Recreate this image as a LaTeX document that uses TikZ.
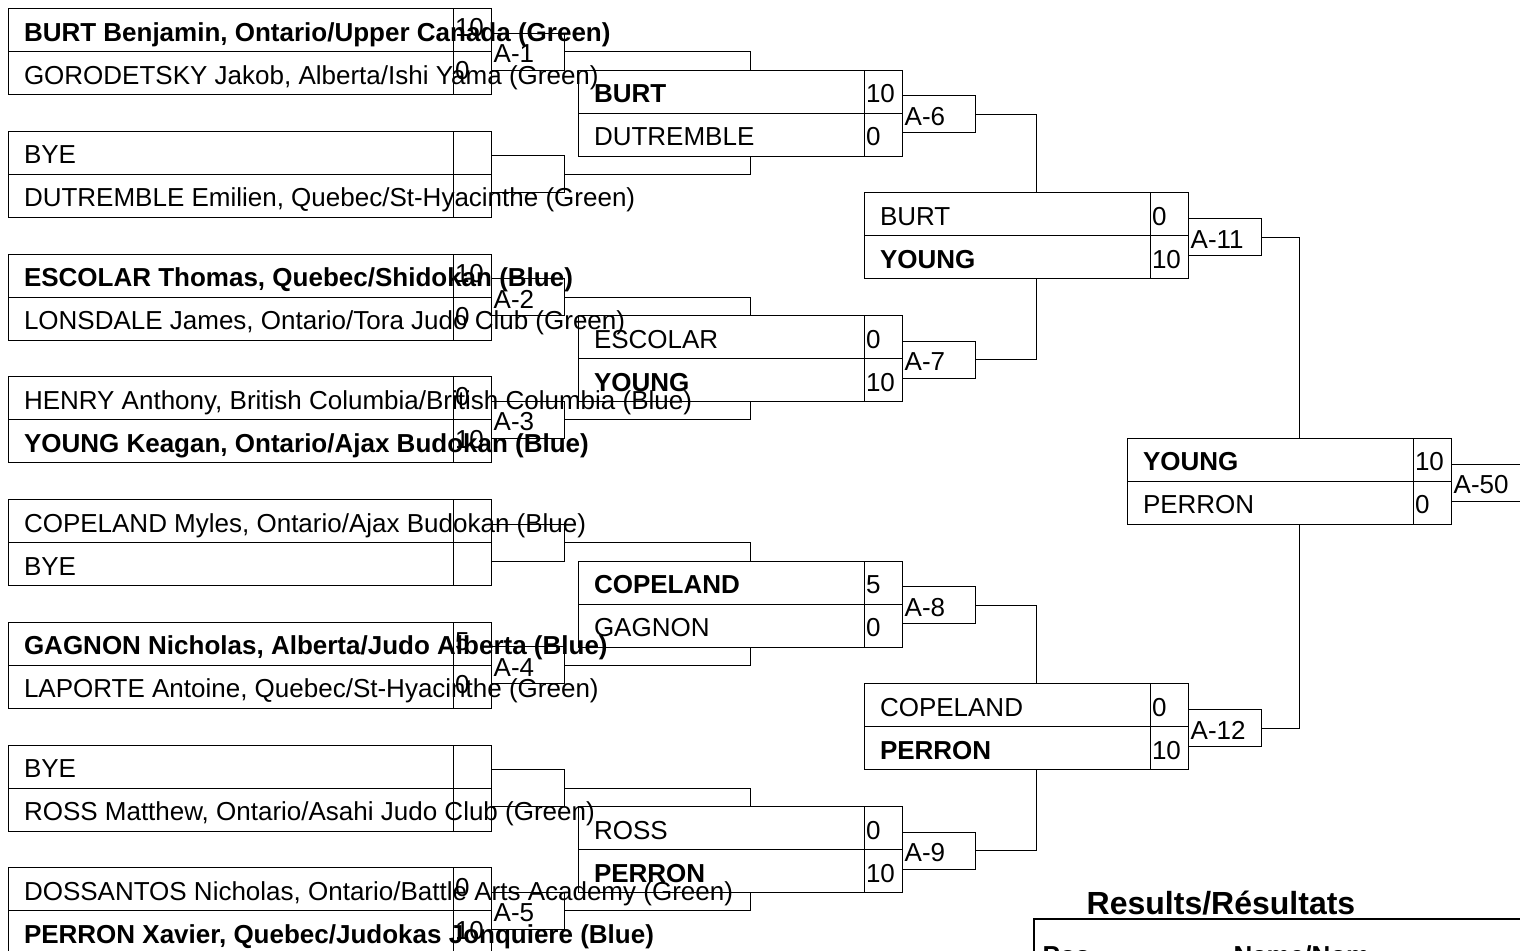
\documentclass[tikz,border=0pt]{standalone}
\usepackage{fontspec}
\setmainfont{Liberation Sans}
\usetikzlibrary{positioning}

\tikzset{every picture/.style={line width=0.75pt}}
\tikzset{
  box/.style={draw, rectangle, outer sep=0pt, minimum height=32.25pt, text height=16.5pt, text depth=0pt, font=\fontsize{19.5pt}{22pt}\selectfont},
  entrant/.style={box, anchor=south west, inner xsep=12pt, execute at begin node={\hbox to 309.75pt\bgroup}, execute at end node={\hss\egroup}},
  judoka/.style={box, anchor=south west, inner xsep=12pt, execute at begin node={\hbox to 190.5pt\bgroup}, execute at end node={\hss\egroup}},
  pts/.style={box, inner xsep=1.5pt, execute at begin node={\hbox to 25.5pt\bgroup}, execute at end node={\hss\egroup}},
  firstpts/.style={pts, text height=10pt},
  tag/.style={draw, rectangle, outer sep=0pt, anchor=west, minimum height=27.75pt, inner xsep=2pt, inner ysep=0pt, text height=16.5pt, text depth=0pt, font=\fontsize{19.5pt}{22pt}\selectfont, execute at begin node={\hbox to 51pt\bgroup}, execute at end node={\hss\egroup}},
}

\begin{document}
\begin{tikzpicture}[x=0.75pt,y=0.75pt,yscale=-1,xscale=1]
\useasboundingbox (0,0) rectangle (1520,950);

%Pool 1
\node[entrant] (p1a) at (8,51.7) {\textbf{BURT Benjamin, Ontario/Upper Canada (Green)}};
\node[entrant, below=0pt of p1a] (p1b) {GORODETSKY Jakob, Alberta/Ishi Yama (Green)};
\node[firstpts, right=0pt of p1a] (x1a) {10};
\node[firstpts, right=0pt of p1b] (x1b) {0};
\node[tag] (t1) at (x1a.south east) {A-1};
%Pool 2
\node[entrant] (p2a) at (8,174.45) {BYE};
\node[entrant, below=0pt of p2a] (p2b) {DUTREMBLE Emilien, Quebec/St-Hyacinthe (Green)};
\node[firstpts, right=0pt of p2a] (x2a) {};
\node[firstpts, right=0pt of p2b] (x2b) {};
\node[tag] (t2) at (x2a.south east) {};
%Pool 3
\node[entrant] (p3a) at (8,297.2) {\textbf{ESCOLAR Thomas, Quebec/Shidokan (Blue)}};
\node[entrant, below=0pt of p3a] (p3b) {LONSDALE James, Ontario/Tora Judo Club (Green)};
\node[firstpts, right=0pt of p3a] (x3a) {10};
\node[firstpts, right=0pt of p3b] (x3b) {0};
\node[tag] (t3) at (x3a.south east) {A-2};
%Pool 4
\node[entrant] (p4a) at (8,419.95) {HENRY Anthony, British Columbia/British Columbia (Blue)};
\node[entrant, below=0pt of p4a] (p4b) {\textbf{YOUNG Keagan, Ontario/Ajax Budokan (Blue)}};
\node[firstpts, right=0pt of p4a] (x4a) {0};
\node[firstpts, right=0pt of p4b] (x4b) {10};
\node[tag] (t4) at (x4a.south east) {A-3};
%Pool 5
\node[entrant] (p5a) at (8,542.7) {COPELAND Myles, Ontario/Ajax Budokan (Blue)};
\node[entrant, below=0pt of p5a] (p5b) {BYE};
\node[firstpts, right=0pt of p5a] (x5a) {};
\node[firstpts, right=0pt of p5b] (x5b) {};
\node[tag] (t5) at (x5a.south east) {};
%Pool 6
\node[entrant] (p6a) at (8,665.45) {\textbf{GAGNON Nicholas, Alberta/Judo Alberta (Blue)}};
\node[entrant, below=0pt of p6a] (p6b) {LAPORTE Antoine, Quebec/St-Hyacinthe (Green)};
\node[firstpts, right=0pt of p6a] (x6a) {5};
\node[firstpts, right=0pt of p6b] (x6b) {0};
\node[tag] (t6) at (x6a.south east) {A-4};
%Pool 7
\node[entrant] (p7a) at (8,788.2) {BYE};
\node[entrant, below=0pt of p7a] (p7b) {ROSS Matthew, Ontario/Asahi Judo Club (Green)};
\node[firstpts, right=0pt of p7a] (x7a) {};
\node[firstpts, right=0pt of p7b] (x7b) {};
\node[tag] (t7) at (x7a.south east) {};
%Pool 8
\node[entrant] (p8a) at (8,910.95) {DOSSANTOS Nicholas, Ontario/Battle Arts Academy (Green)};
\node[entrant, below=0pt of p8a] (p8b) {\textbf{PERRON Xavier, Quebec/Judokas Jonquiere (Blue)}};
\node[firstpts, right=0pt of p8a] (x8a) {0};
\node[firstpts, right=0pt of p8b] (x8b) {10};
\node[tag] (t8) at (x8a.south east) {A-5};

%Bout A-6
\node[judoka] (w6a) at (578,113.1) {\textbf{BURT}};
\node[judoka, below=0pt of w6a] (w6b) {DUTREMBLE};
\node[pts, right=0pt of w6a] (y6a) {10};
\node[pts, right=0pt of w6b] (y6b) {0};
\node[tag, yshift=-1pt] (m6) at (y6a.south east) {A-6};
%Bout A-7
\node[judoka] (w7a) at (578,358.6) {ESCOLAR};
\node[judoka, below=0pt of w7a] (w7b) {\textbf{YOUNG}};
\node[pts, right=0pt of w7a] (y7a) {0};
\node[pts, right=0pt of w7b] (y7b) {10};
\node[tag, yshift=-1pt] (m7) at (y7a.south east) {A-7};
%Bout A-8
\node[judoka] (w8a) at (578,604.1) {\textbf{COPELAND}};
\node[judoka, below=0pt of w8a] (w8b) {GAGNON};
\node[pts, right=0pt of w8a] (y8a) {5};
\node[pts, right=0pt of w8b] (y8b) {0};
\node[tag, yshift=-1pt] (m8) at (y8a.south east) {A-8};
%Bout A-9
\node[judoka] (w9a) at (578,849.6) {ROSS};
\node[judoka, below=0pt of w9a] (w9b) {\textbf{PERRON}};
\node[pts, right=0pt of w9a] (y9a) {0};
\node[pts, right=0pt of w9b] (y9b) {10};
\node[tag, yshift=-1pt] (m9) at (y9a.south east) {A-9};

%Bout A-11
\node[judoka] (w11a) at (864,235.85) {BURT};
\node[judoka, below=0pt of w11a] (w11b) {\textbf{YOUNG}};
\node[pts, right=0pt of w11a] (y11a) {0};
\node[pts, right=0pt of w11b] (y11b) {10};
\node[tag, yshift=-1pt] (m11) at (y11a.south east) {A-11};
%Bout A-12
\node[judoka] (w12a) at (864,726.85) {COPELAND};
\node[judoka, below=0pt of w12a] (w12b) {\textbf{PERRON}};
\node[pts, right=0pt of w12a] (y12a) {0};
\node[pts, right=0pt of w12b] (y12b) {10};
\node[tag, yshift=-1pt] (m12) at (y12a.south east) {A-12};

%Bout A-50
\node[judoka] (w50a) at (1127,481.35) {\textbf{YOUNG}};
\node[judoka, below=0pt of w50a] (w50b) {PERRON};
\node[pts, right=0pt of w50a] (y50a) {10};
\node[pts, right=0pt of w50b] (y50b) {0};
\node[tag, yshift=-1pt] (m50) at (y50a.south east) {A-50};

%Links round 1
\draw (t1.east) -| ([xshift=129pt]w6a.north west);
\draw (t2.east) -| ([xshift=129pt]w6b.south west);
\draw (t3.east) -| ([xshift=129pt]w7a.north west);
\draw (t4.east) -| ([xshift=129pt]w7b.south west);
\draw (t5.east) -| ([xshift=129pt]w8a.north west);
\draw (t6.east) -| ([xshift=129pt]w8b.south west);
\draw (t7.east) -| ([xshift=129pt]w9a.north west);
\draw (t8.east) -| ([xshift=129pt]w9b.south west);
%Links round 2
\draw (m6.east) -| ([xshift=129pt]w11a.north west);
\draw (m7.east) -| ([xshift=129pt]w11b.south west);
\draw (m8.east) -| ([xshift=129pt]w12a.north west);
\draw (m9.east) -| ([xshift=129pt]w12b.south west);
%Links round 3
\draw (m11.east) -| ([xshift=129pt]w50a.north west);
\draw (m12.east) -| ([xshift=129pt]w50b.south west);

% Text Node
\node[font=\fontsize{24pt}{28pt}\selectfont\bfseries, inner sep=0pt, text height=17pt, text depth=0pt] (restitle) at (1221,903) {Results/Résultats};
%Results table
\node[draw, line width=1.5pt, rectangle, anchor=north west, minimum width=450pt, minimum height=100pt] (results) at (1033,918.3) {};
% Text Node
\node[anchor=north west, inner sep=0pt, text height=13.4pt, text depth=0pt, font=\fontsize{19.5pt}{22pt}\selectfont\bfseries] (hpos) at (1042,946) {Pos};
% Text Node
\node[anchor=north west, inner sep=0pt, text height=13.4pt, text depth=0pt, font=\fontsize{19.5pt}{22pt}\selectfont\bfseries] (hname) at (1233,946) {Name/Nom};

\end{tikzpicture}
\end{document}
